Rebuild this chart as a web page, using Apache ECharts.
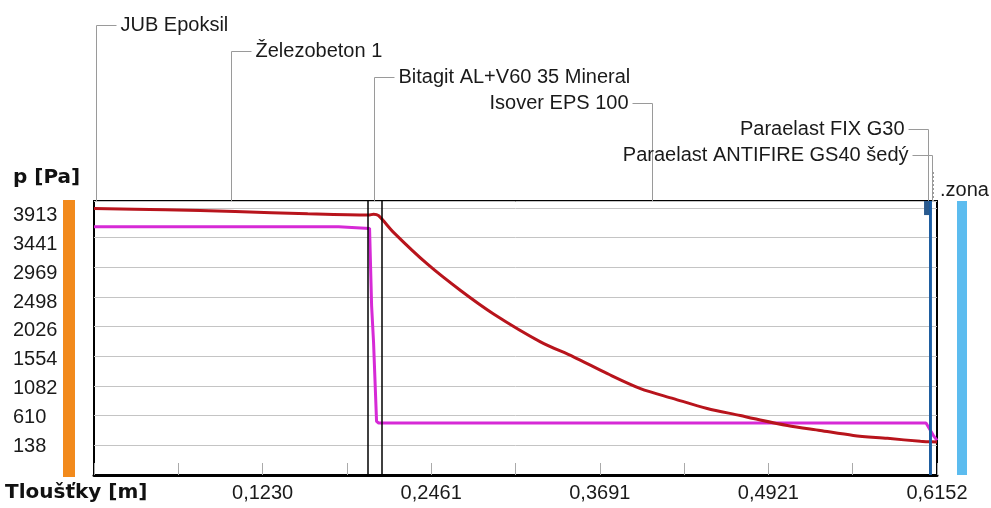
<!DOCTYPE html>
<html>
<head>
<meta charset="utf-8">
</head>
<body style="margin:0; background:#fff">
<div id="container" style="width:991px; height:508px"></div>
<script src="https://cdn.jsdelivr.net/npm/echarts@6/dist/echarts.min.js"></script>
<script>
// saturated vapour pressure (red) along the thickness
var satX = [0, 0.052, 0.103, 0.156, 0.2004, 0.2040, 0.2077, 0.2186, 0.2434, 0.2675, 0.2916, 0.3258,
            0.3499, 0.3747, 0.3988, 0.4229, 0.4475, 0.4717, 0.4812, 0.5060, 0.5300, 0.5541,
            0.5790, 0.6031, 0.6072, 0.6152];
var satP = [3905, 3885, 3857, 3820, 3800, 3815, 3790, 3525, 3018, 2600, 2227, 1784,
            1546, 1277, 1040, 881, 723, 612, 565, 454, 375, 296,
            249, 201, 196, 190];
// partial vapour pressure (magenta)
var partX = [0, 0.1785, 0.1790, 0.2011, 0.2026, 0.2040, 0.2062, 0.2077, 0.6072, 0.6130, 0.6152];
var partP = [3615, 3615, 3588, 3588, 2353, 1783, 519, 493, 493, 280, 216];

var yTickLabels = ['138', '610', '1082', '1554', '2026', '2498', '2969', '3441', '3913'];
var xTickLabels = ['0,1230', '0,2461', '0,3691', '0,4921', '0,6152'];

var layerNames = ['JUB Epoksil', 'Železobeton 1', 'Bitagit AL+V60 35 Mineral', 'Isover EPS 100',
                  'Paraelast FIX G30', 'Paraelast ANTIFIRE GS40 šedý'];
var layerMids = [0.0012, 0.1000, 0.2040, 0.4075, 0.6084, 0.6113];
var zoneName = '.zona';
var zoneMid = 0.6141;
var blackEdges = [0.2004, 0.2077, 0.6130];
var blueEdges = [0.6072, 0.6096];

var dom = document.getElementById('container');
var myChart = echarts.init(dom);
var font = 'Liberation Sans';
var step = 471.875;
var xStep = 0.06152;

var option = {
    animation: false,
    backgroundColor: '#fff',
    grid: {left: 94, right: 54, top: 201, bottom: 33, show: true,
           borderColor: '#000', borderWidth: 2, backgroundColor: '#fff'},
    xAxis: {
        type: 'value', min: 0, max: 0.6152, interval: xStep,
        axisLine: {onZero: false, lineStyle: {color: '#000', width: 3}},
        axisTick: {inside: true, length: 12, lineStyle: {color: '#aaa'}},
        splitLine: {show: false},
        axisLabel: {
            fontFamily: font, fontSize: 20, color: '#1a1a1a', margin: 8,
            showMinLabel: true, showMaxLabel: true,
            formatter: function (v) {
                var k = Math.round(v / xStep);
                if (k > 0 && k % 2 === 0) return xTickLabels[k / 2 - 1];
                return '';
            }
        }
    },
    yAxis: [{
        type: 'value', min: 138 - step, max: 4023.75, interval: step,
        axisLine: {show: false}, axisTick: {show: false}, axisLabel: {show: false},
        splitLine: {lineStyle: {color: '#c4c4c4', width: 1}}
    }, {
        // labels only, spaced like the original program draws them
        type: 'value', min: 138 - step, max: 4150, interval: step, position: 'left',
        axisLine: {show: false}, axisTick: {show: false}, splitLine: {show: false},
        axisLabel: {
            fontFamily: font, fontSize: 20, color: '#1a1a1a', align: 'left', margin: 81,
            showMinLabel: true, showMaxLabel: true,
            formatter: function (v) {
                var k = Math.round((v - (138 - step)) / step);
                return (k >= 1 && k <= 9) ? yTickLabels[k - 1] : '';
            }
        }
    }],
    series: [{
        type: 'line', yAxisIndex: 0, symbol: 'none', silent: true, z: 3,
        data: partX.map(function (x, i) { return [x, partP[i]]; }),
        lineStyle: {color: '#d62ad6', width: 3},
        markLine: {
            silent: true, symbol: 'none', label: {show: false},
            lineStyle: {color: '#000', width: 1.5, type: 'solid'},
            data: blackEdges.map(function (x) { return {xAxis: x}; })
        }
    }, {
        type: 'line', yAxisIndex: 0, symbol: 'none', silent: true, z: 4,
        smooth: 0.3,
        data: satX.map(function (x, i) { return [x, satP[i]]; }),
        lineStyle: {color: '#b8141c', width: 3},
        markLine: {
            silent: true, symbol: 'none', label: {show: false},
            lineStyle: {color: '#1d5fa6', width: 2.5, type: 'solid'},
            data: blueEdges.map(function (x) { return {xAxis: x}; })
        }
    }]
};
myChart.setOption(option);

// annotations: leader lines from each layer up to its name
function px(x, y) { return myChart.convertToPixel({gridIndex: 0}, [x, y]); }
var gTop = 201, gBottom = 475, gLeft = 94, gRight = 937;
var lineCol = '#9a9a9a';
var graphics = [];
var rowY = function (i) { return 25 + i * 26; };

layerNames.forEach(function (name, i) {
    var lx = Math.round(px(layerMids[i], 0)[0]) + 0.5;
    var y = rowY(i) + 0.5;
    var left = i < 3;
    var hx = left ? lx + 20 : lx - 20;
    graphics.push({type: 'polyline', silent: true,
        shape: {points: [[lx, gTop], [lx, y], [hx, y]]},
        style: {stroke: lineCol, lineWidth: 1, fill: null}});
    graphics.push({type: 'text', silent: true, x: left ? lx + 24 : lx - 24, y: rowY(i),
        style: {text: name, font: '20px "' + font + '"', fill: '#1a1a1a',
                align: left ? 'left' : 'right', verticalAlign: 'middle'}});
});

var zx = Math.round(px(zoneMid, 0)[0]) - 1.5;
graphics.push({type: 'line', silent: true,
    shape: {x1: zx, y1: 172, x2: zx, y2: gTop},
    style: {stroke: lineCol, lineWidth: 1, lineDash: [2, 2]}});
graphics.push({type: 'text', silent: true, x: gRight + 3, y: 190,
    style: {text: zoneName, font: '20px "' + font + '"', fill: '#1a1a1a',
            align: 'left', verticalAlign: 'middle'}});

// side colour bars
graphics.push({type: 'rect', silent: true, shape: {x: gLeft - 31, y: gTop - 1, width: 12, height: gBottom - gTop + 3},
    style: {fill: '#f28a1c'}});
graphics.push({type: 'rect', silent: true, shape: {x: gRight + 20, y: gTop, width: 10, height: gBottom - gTop},
    style: {fill: '#5cbcef'}});

// small marker at the top of the thin membranes
var mk1 = px(blueEdges[0], 4023.75), mk2 = px(blueEdges[1], 3800);
graphics.push({type: 'rect', silent: true,
    shape: {x: mk1[0] - 2, y: mk1[1], width: mk2[0] - mk1[0] + 4, height: mk2[1] - mk1[1]},
    style: {fill: '#2a5a8e'}});

// axis titles
graphics.push({type: 'text', silent: true, x: 13, y: 178,
    style: {text: 'p [Pa]', font: 'bold 20px "DejaVu Sans"', fill: '#111', verticalAlign: 'middle'}});
graphics.push({type: 'text', silent: true, x: 5, y: 493,
    style: {text: 'Tloušťky [m]', font: 'bold 20px "DejaVu Sans"', fill: '#111', verticalAlign: 'middle'}});

myChart.setOption({graphic: graphics});
</script>
</body>
</html>
